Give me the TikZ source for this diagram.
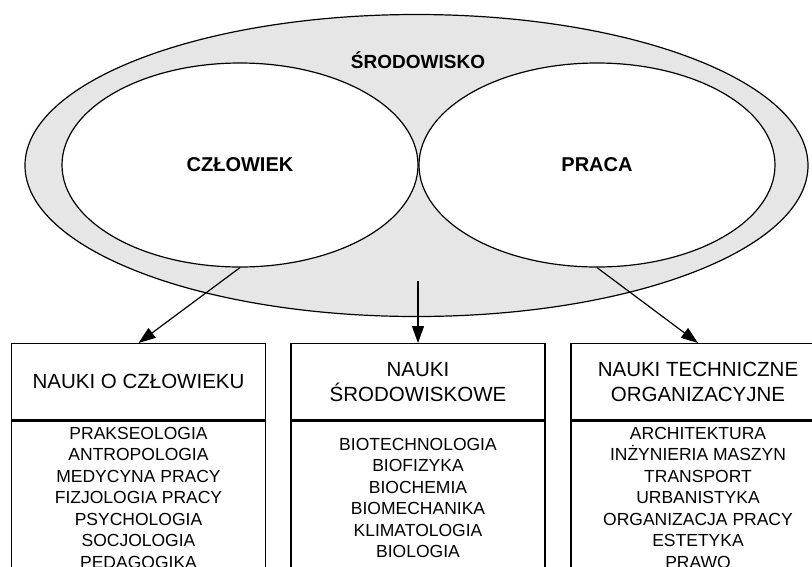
\documentclass[tikz,border=0pt]{standalone}
\usepackage{fontspec}
\setmainfont{Liberation Sans}
\usetikzlibrary{arrows.meta,shapes.geometric,positioning}
\definecolor{EnvGray}{RGB}{230,230,230}
\tikzset{
  %% elipsy: środowisko (szare) i obszary (białe)
  envell/.style={ellipse,draw=black,line width=1.2pt,fill=EnvGray,inner sep=0pt,
                 minimum width=783pt,minimum height=302pt},
  areaell/.style={ellipse,draw=black,line width=1.2pt,fill=white,inner sep=0pt,
                  minimum width=356pt,minimum height=204pt,
                  font=\fontsize{20}{24}\selectfont\bfseries},
  %% ramki nauk: nagłówek i lista
  headbox/.style={rectangle,draw=black,line width=1.3pt,
                  minimum width=254pt,minimum height=76pt,inner sep=0pt,
                  font=\fontsize{20.5}{25}\selectfont,align=center},
  listbox/.style={rectangle,draw=black,line width=1.3pt,
                  minimum width=254pt,minimum height=154pt,inner sep=0pt,
                  font=\fontsize{17.5}{21.5}\selectfont,align=center},
  %% strzałki
  scarr/.style={-{Triangle[length=17pt,width=12pt]},line width=1.2pt},
}
\begin{document}
\begin{tikzpicture}[x=1pt,y=-1pt]
    \useasboundingbox (0,0) rectangle (812,566);
    \clip (0,0) rectangle (812,566);

    %% ── elipsy ───────────────────────────────────────────
    \node[envell] (srodowisko) at (416.5,165.5) {};
    \node[areaell] (czlowiek) at (240,165) {CZŁOWIEK};
    \node[areaell] (praca)    at (597,165) {PRACA};
    \node[anchor=base,font=\fontsize{19}{23}\selectfont\bfseries]
      (srodowiskoTxt) at (418,68) {ŚRODOWISKO};

    %% ── nagłówki nauk ────────────────────────────────────
    \node[headbox,anchor=north] (naukiCzl)  at (138.5,343) {NAUKI O CZŁOWIEKU};
    \node[headbox,anchor=north] (naukiSrod) at (418,343)   {NAUKI\\ŚRODOWISKOWE};
    \node[headbox,anchor=north] (naukiTech) at (698,343)   {NAUKI TECHNICZNE\\ORGANIZACYJNE};

    %% ── listy nauk ───────────────────────────────────────
    \node[listbox,anchor=north] (listaCzl) at (naukiCzl.south)
      {PRAKSEOLOGIA\\ANTROPOLOGIA\\MEDYCYNA PRACY\\FIZJOLOGIA PRACY\\%
       PSYCHOLOGIA\\SOCJOLOGIA\\PEDAGOGIKA};
    \node[listbox,anchor=north] (listaSrod) at (naukiSrod.south)
      {BIOTECHNOLOGIA\\BIOFIZYKA\\BIOCHEMIA\\BIOMECHANIKA\\%
       KLIMATOLOGIA\\BIOLOGIA};
    \node[listbox,anchor=north] (listaTech) at (naukiTech.south)
      {ARCHITEKTURA\\INŻYNIERIA MASZYN\\TRANSPORT\\URBANISTYKA\\%
       ORGANIZACJA PRACY\\ESTETYKA\\PRAWO};

    %% ── strzałki ─────────────────────────────────────────
    \coordinate (srodek) at (418,281);
    \draw[scarr] (czlowiek.south) -- (naukiCzl.north);
    \draw[scarr] (srodek) -- (naukiSrod.north);
    \draw[scarr] (praca.south) -- (naukiTech.north);
\end{tikzpicture}
\end{document}
